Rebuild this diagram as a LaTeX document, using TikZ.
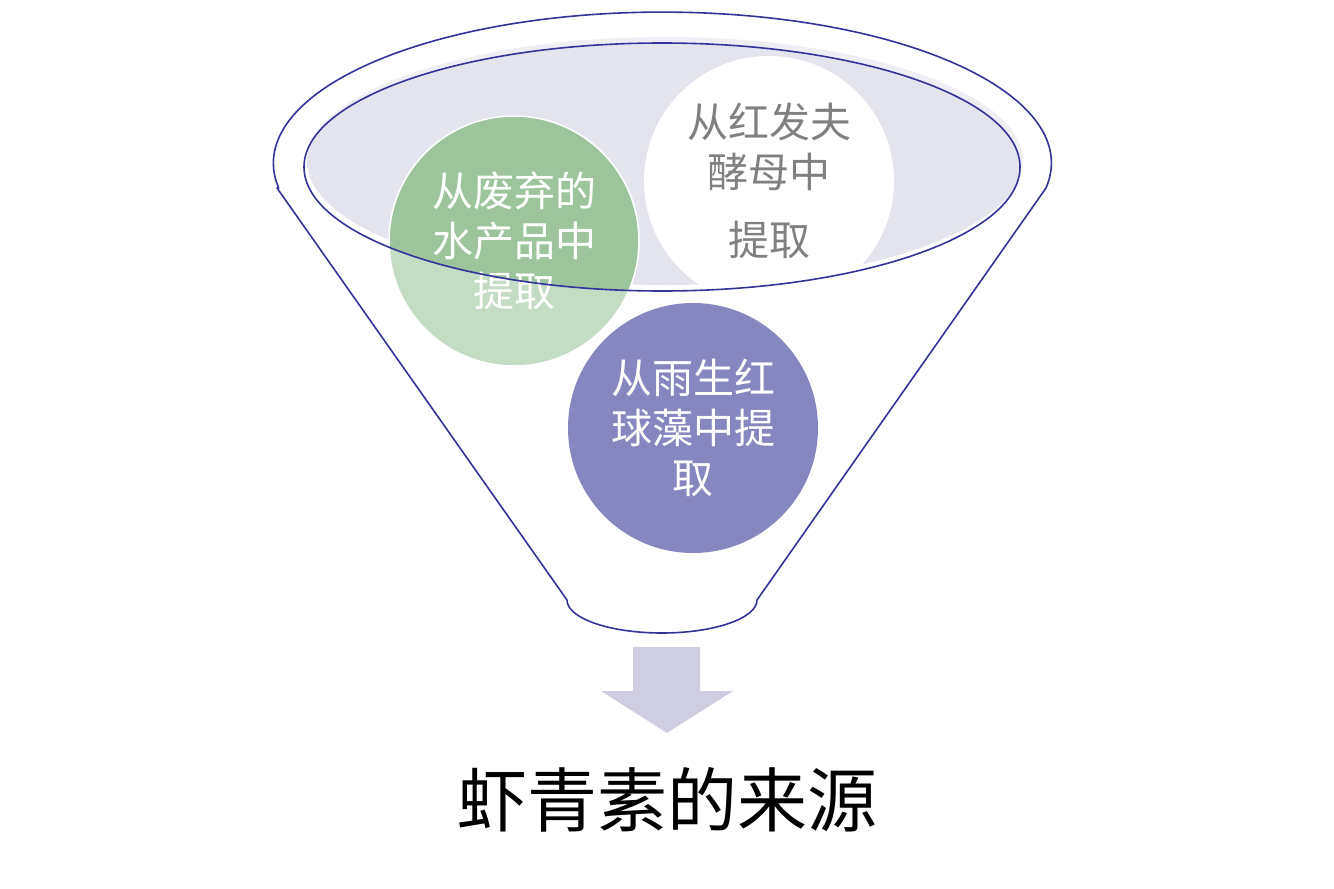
\documentclass[tikz,border=0pt]{standalone}
\usepackage{fontspec}
\newfontfamily\cjk{Noto Sans CJK SC}
\definecolor{funblue}{HTML}{333399}
\definecolor{lav}{HTML}{E4E4EE}
\definecolor{greentop}{HTML}{9EC49D}
\definecolor{purp}{HTML}{8686C0}
\definecolor{arrowc}{HTML}{CECEE0}
\definecolor{greytext}{HTML}{808080}
\begin{document}
\begin{tikzpicture}[x=1pt,y=-1pt,
  outl/.style={draw=funblue,line width=1.6pt},
  bubble/.style={circle,minimum size=250pt,inner sep=0pt,align=center,font=\cjk\fontsize{41}{50}\selectfont},
]
\useasboundingbox (0,0) rectangle (1334,889);
% lavender liquid
\fill[lav] (665,161) ellipse [x radius=358, y radius=124];
% circles
\node[bubble, fill=white, text=greytext] (yeast) at (769,181) {从红发夫\\酵母中\\[18pt]提取};
\node[bubble, fill=greentop, draw=white, line width=1.5pt, text=white] (waste) at (514,241) {从废弃的\\水产品中\\提取};
% translucent funnel body
\fill[white, fill opacity=0.4, even odd rule]
  (277,188) -- (567,600) arc[start angle=180,end angle=0,x radius=95,y radius=33]
  -- (1046,188) arc[start angle=9.5,end angle=-189.5,x radius=389,y radius=151] -- cycle
  (662,167) ellipse [x radius=358, y radius=124];
% outlines
\draw[outl, line join=round]
  (277,188) -- (567,600) arc[start angle=180,end angle=0,x radius=95,y radius=33]
  -- (1046,188) arc[start angle=9.5,end angle=-189.5,x radius=389,y radius=151] -- cycle;
\draw[outl] (662,167) ellipse [x radius=358, y radius=124];
% front circle
\node[bubble, fill=purp, text=white] (algae) at (693,428) {从雨生红\\球藻中提\\取};
% down arrow
\fill[arrowc] (633,647) -- (700,647) -- (700,691) -- (733,691) -- (667,733) -- (601,691) -- (633,691) -- cycle;
% title
\node[font=\cjk\fontsize{70}{84}\selectfont] (title) at (667,800) {虾青素的来源};
\end{tikzpicture}
\end{document}
